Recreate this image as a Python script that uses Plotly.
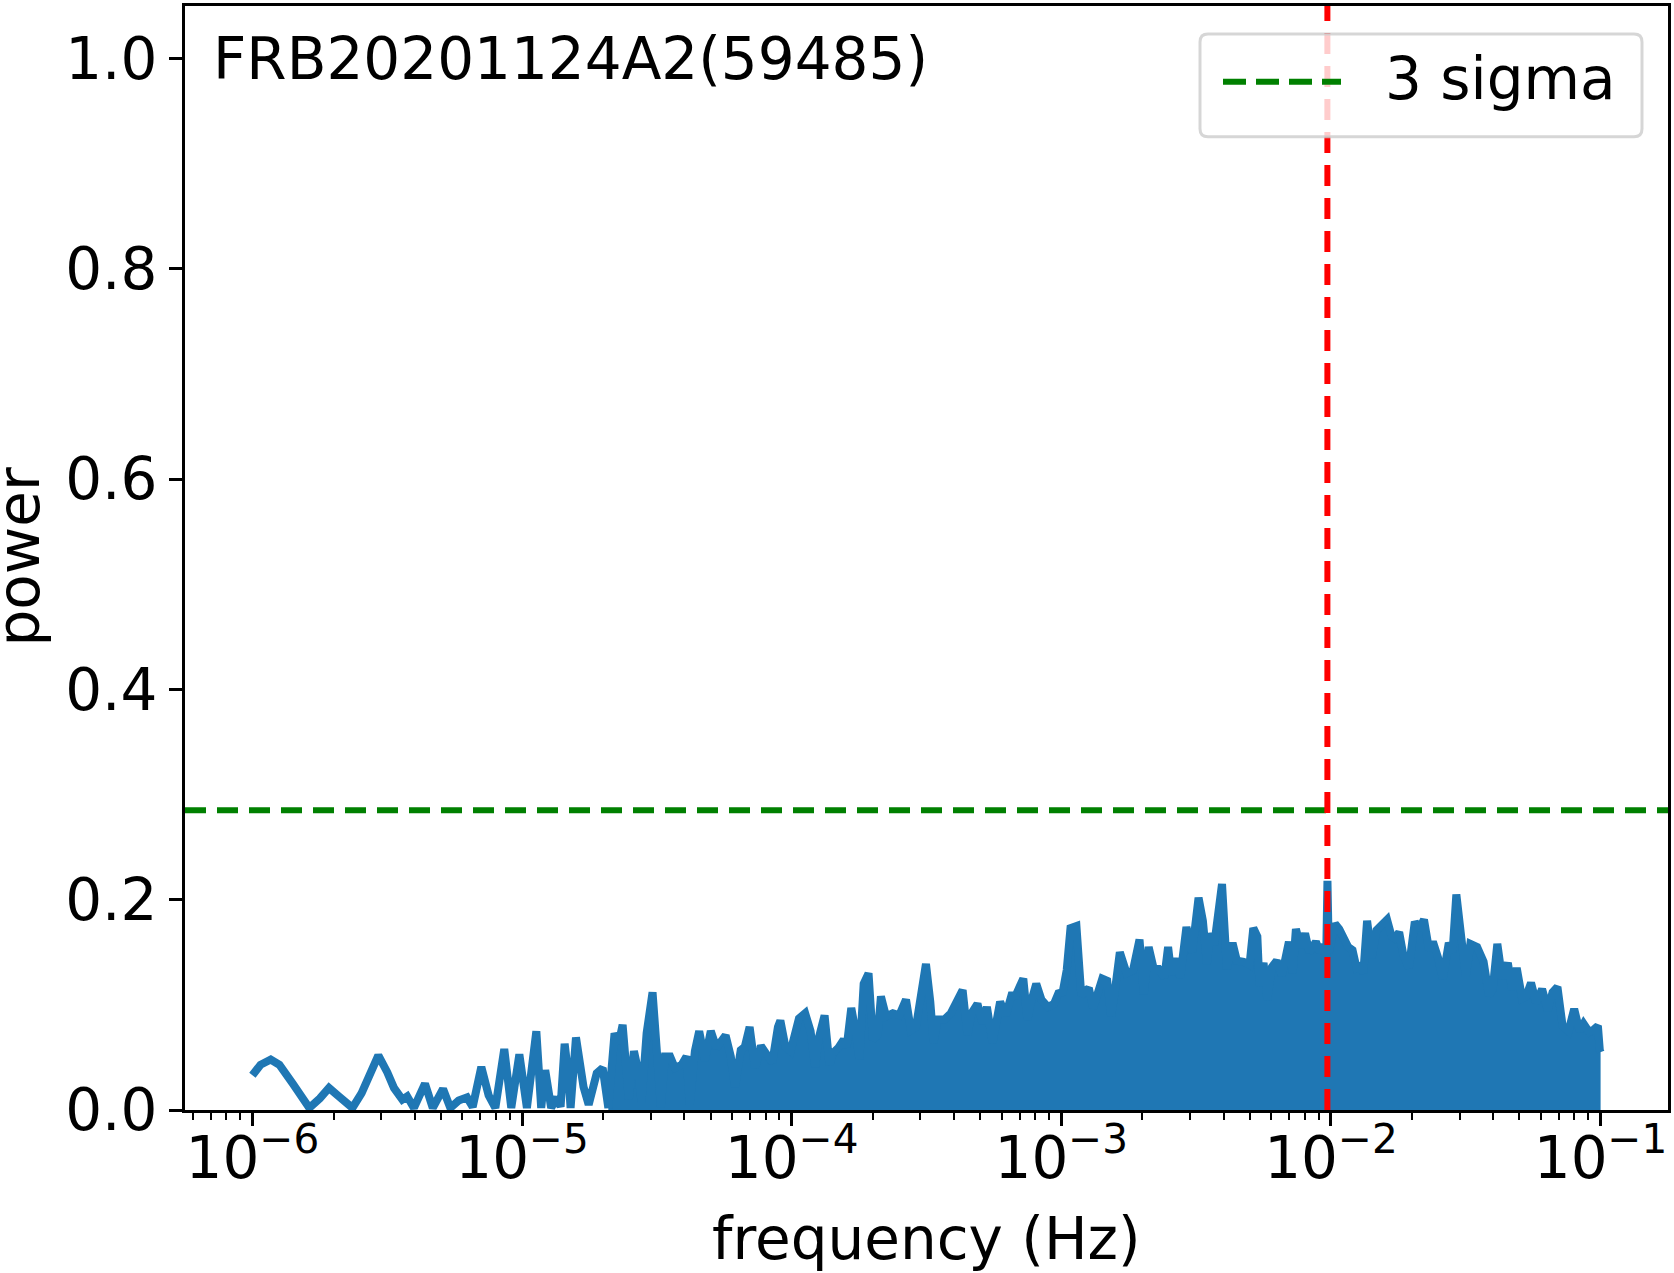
import plotly.graph_objects as go

# ---- data ----
# log10 of frequency (Hz) and Lomb-Scargle power
log10_freq = [
    -6.000, -5.970, -5.932, -5.900, -5.850, -5.789, -5.750, -5.716, -5.680, -5.629,
    -5.595, -5.533, -5.500, -5.475, -5.444, -5.426, -5.401, -5.360, -5.331, -5.293,
    -5.266, -5.235, -5.204, -5.183, -5.151, -5.124, -5.099, -5.066, -5.040, -5.010,
    -4.982, -4.947, -4.929, -4.914, -4.892, -4.871, -4.857, -4.842, -4.828, -4.820,
    -4.800, -4.772, -4.753, -4.723, -4.701, -4.680, -4.657, -4.642, -4.627, -4.604,
    -4.585, -4.569, -4.557, -4.538, -4.516, -4.501, -4.485, -4.470, -4.451, -4.433,
    -4.408, -4.390, -4.378, -4.359, -4.343, -4.322, -4.300, -4.279, -4.245, -4.226,
    -4.210, -4.189, -4.174, -4.156, -4.136, -4.114, -4.089, -4.072, -4.051, -4.042,
    -4.023, -4.004, -3.973, -3.950, -3.930, -3.913, -3.900, -3.878, -3.860, -3.847,
    -3.827, -3.807, -3.796, -3.779, -3.761, -3.749, -3.733, -3.715, -3.699, -3.681,
    -3.669, -3.650, -3.625, -3.601, -3.576, -3.558, -3.539, -3.521, -3.502, -3.486,
    -3.474, -3.459, -3.434, -3.410, -3.387, -3.366, -3.348, -3.333, -3.311, -3.292,
    -3.276, -3.255, -3.227, -3.206, -3.185, -3.169, -3.141, -3.126, -3.114, -3.093,
    -3.074, -3.050, -3.027, -3.011, -2.995, -2.980, -2.966, -2.944, -2.926, -2.898,
    -2.882, -2.867, -2.848, -2.830, -2.815, -2.802, -2.783, -2.758, -2.734, -2.710,
    -2.694, -2.676, -2.657, -2.639, -2.618, -2.604, -2.592, -2.573, -2.559, -2.536,
    -2.515, -2.491, -2.475, -2.460, -2.448, -2.433, -2.421, -2.404, -2.386, -2.365,
    -2.349, -2.324, -2.302, -2.288, -2.273, -2.265, -2.250, -2.236, -2.219, -2.201,
    -2.182, -2.156, -2.142, -2.130, -2.112, -2.096, -2.080, -2.056, -2.041, -2.026,
    -2.018, -2.013, -2.008, -1.998, -1.985, -1.969, -1.954, -1.936, -1.920, -1.905,
    -1.890, -1.880, -1.866, -1.849, -1.831, -1.812, -1.792, -1.775, -1.763, -1.747,
    -1.732, -1.711, -1.689, -1.673, -1.655, -1.636, -1.622, -1.603, -1.585, -1.563,
    -1.549, -1.535, -1.516, -1.500, -1.483, -1.458, -1.434, -1.414, -1.400, -1.383,
    -1.365, -1.344, -1.328, -1.311, -1.291, -1.276, -1.258, -1.239, -1.217, -1.196,
    -1.178, -1.160, -1.141, -1.119, -1.098, -1.078, -1.063, -1.042, -1.023, -1.010,
    -1.003, -1.000,
]
power = [
    0.033, 0.043, 0.048, 0.043, 0.025, 0.002, 0.011, 0.021, 0.013, 0.002,
    0.016, 0.052, 0.036, 0.021, 0.010, 0.013, 0.002, 0.025, 0.002, 0.020,
    0.002, 0.009, 0.012, 0.003, 0.041, 0.014, 0.002, 0.058, 0.002, 0.053,
    0.002, 0.075, 0.002, 0.038, 0.002, 0.012, 0.003, 0.063, 0.032, 0.002,
    0.069, 0.022, 0.005, 0.035, 0.040, 0.002, 0.073, 0.063, 0.081, 0.010,
    0.056, 0.037, 0.007, 0.073, 0.112, 0.060, 0.003, 0.051, 0.051, 0.040,
    0.043, 0.051, 0.005, 0.056, 0.075, 0.047, 0.075, 0.059, 0.071, 0.051,
    0.022, 0.057, 0.060, 0.079, 0.040, 0.061, 0.051, 0.045, 0.079, 0.085,
    0.060, 0.056, 0.087, 0.092, 0.075, 0.041, 0.068, 0.090, 0.043, 0.054,
    0.059, 0.067, 0.060, 0.097, 0.072, 0.048, 0.120, 0.130, 0.067, 0.071,
    0.108, 0.089, 0.092, 0.090, 0.105, 0.076, 0.079, 0.112, 0.139, 0.103,
    0.064, 0.086, 0.086, 0.092, 0.105, 0.114, 0.071, 0.092, 0.101, 0.082,
    0.098, 0.064, 0.103, 0.090, 0.109, 0.109, 0.125, 0.086, 0.101, 0.120,
    0.105, 0.098, 0.101, 0.111, 0.112, 0.133, 0.173, 0.175, 0.109, 0.116,
    0.097, 0.112, 0.125, 0.123, 0.089, 0.112, 0.150, 0.130, 0.133, 0.162,
    0.110, 0.155, 0.134, 0.134, 0.126, 0.155, 0.129, 0.144, 0.126, 0.174,
    0.150, 0.202, 0.180, 0.139, 0.168, 0.157, 0.182, 0.215, 0.134, 0.159,
    0.142, 0.141, 0.138, 0.173, 0.165, 0.118, 0.140, 0.105, 0.136, 0.142,
    0.128, 0.160, 0.130, 0.172, 0.155, 0.168, 0.150, 0.160, 0.150, 0.157,
    0.140, 0.218, 0.150, 0.165, 0.177, 0.172, 0.163, 0.155, 0.152, 0.135,
    0.137, 0.130, 0.180, 0.145, 0.171, 0.175, 0.181, 0.165, 0.163, 0.169,
    0.148, 0.135, 0.179, 0.172, 0.181, 0.152, 0.160, 0.145, 0.125, 0.159,
    0.150, 0.205, 0.157, 0.127, 0.158, 0.155, 0.141, 0.109, 0.115, 0.158,
    0.125, 0.140, 0.114, 0.135, 0.106, 0.108, 0.121, 0.102, 0.115, 0.095,
    0.112, 0.117, 0.080, 0.075, 0.096, 0.075, 0.082, 0.074, 0.077, 0.080,
    0.057, 0.055,
]
freq_hz = [10 ** v for v in log10_freq]

three_sigma = 0.285          # 3 sigma power level
marked_freq = 0.0097         # red dashed vertical marker (Hz)
source_label = "FRB20201124A2(59485)"
legend_label = "3 sigma"
x_title = "frequency (Hz)"
y_title = "power"
y_tick_values = [0.0, 0.2, 0.4, 0.6, 0.8, 1.0]
x_tick_exponents = [-6, -5, -4, -3, -2, -1]
fill_start = -4.69           # dense part of the periodogram starts here

BLUE = "#1f77b4"
FONT = "DejaVu Sans"
FS = 58
LW = 8

x_tick_values = [10.0 ** e for e in x_tick_exponents]
x_tick_text = [f"10<sup>\u2212{-e}</sup>" for e in x_tick_exponents]

dense_idx = [i for i, v in enumerate(log10_freq) if v >= fill_start]

fig = go.Figure()
# dense part: area under the curve
fig.add_trace(go.Scatter(
    x=[freq_hz[i] for i in dense_idx], y=[power[i] for i in dense_idx],
    mode="lines", fill="tozeroy", fillcolor=BLUE,
    line=dict(color=BLUE, width=0), hoverinfo="skip", showlegend=False))
# the periodogram line
fig.add_trace(go.Scatter(
    x=freq_hz, y=power, mode="lines",
    line=dict(color=BLUE, width=LW), showlegend=False))

# plot area in pixels (for positioning layout items)
L, R, T, B = 185, 1668, 3, 1110
W, H = R - L, B - T
def px(x):
    return (x - L) / W
def py(y):
    return (B - y) / H

shapes = [
    dict(type="line", xref="paper", x0=0, x1=1, yref="y", y0=three_sigma, y1=three_sigma,
         line=dict(color="green", width=6, dash="21px,11px"), layer="above"),
    dict(type="line", xref="x", x0=marked_freq, x1=marked_freq, yref="paper", y0=0, y1=1,
         line=dict(color="red", width=6, dash="21px,12px"), layer="above"),
]
# legend frame (rounded)
x0, x1, y0, y1 = px(1200), px(1642), py(134), py(31)
rx, ry = 8 / W, 8 / H
path = (f"M {x0+rx},{y1} L {x1-rx},{y1} Q {x1},{y1} {x1},{y1-ry} "
        f"L {x1},{y0+ry} Q {x1},{y0} {x1-rx},{y0} L {x0+rx},{y0} "
        f"Q {x0},{y0} {x0},{y0+ry} L {x0},{y1-ry} Q {x0},{y1} {x0+rx},{y1} Z")
shapes.append(dict(type="path", xref="paper", yref="paper", path=path,
                   fillcolor="rgba(255,255,255,0.8)",
                   line=dict(color="rgba(204,204,204,0.8)", width=3), layer="above"))
shapes.append(dict(type="line", xref="paper", yref="paper", x0=px(1223), x1=px(1341),
                   y0=py(79), y1=py(79),
                   line=dict(color="green", width=6, dash="23px,10px"), layer="above"))

annotations = [
    dict(text=source_label, xref="paper", yref="paper", x=px(211), y=py(56),
         xanchor="left", yanchor="middle", showarrow=False,
         font=dict(family=FONT, size=FS, color="black")),
    dict(text=legend_label, xref="paper", yref="paper", x=px(1383), y=py(76),
         xanchor="left", yanchor="middle", showarrow=False,
         font=dict(family=FONT, size=FS, color="black")),
    dict(text=x_title, xref="paper", yref="paper", x=0.5, y=py(1239),
         xanchor="center", yanchor="middle", showarrow=False,
         font=dict(family=FONT, size=FS, color="black")),
    dict(text=y_title, xref="paper", yref="paper", x=px(19), y=py(556),
         xanchor="center", yanchor="middle", showarrow=False, textangle=-90,
         font=dict(family=FONT, size=FS, color="black")),
]

fig.update_layout(
    width=1674, height=1273,
    margin=dict(l=L, r=1674 - R, t=T, b=1273 - B, pad=0),
    paper_bgcolor="white", plot_bgcolor="white",
    font=dict(family=FONT, size=FS, color="black"),
    shapes=shapes, annotations=annotations, showlegend=False,
)
fig.update_xaxes(
    type="log", range=[-6.25, -0.75],
    tickmode="array", tickvals=x_tick_values, ticktext=x_tick_text,
    ticklabeloverflow="allow", ticklabelstandoff=-18,
    showline=True, linecolor="black", linewidth=3, mirror=True,
    ticks="outside", ticklen=13, tickwidth=2.7, tickcolor="black",
    showgrid=False, zeroline=False,
    tickfont=dict(family=FONT, size=FS, color="black"),
    minor=dict(ticks="outside", ticklen=7, tickwidth=2, tickcolor="black", dtick="D1",
               showgrid=False),
)
fig.update_yaxes(
    range=[0, 1.05], tickvals=y_tick_values, tickformat=".1f",
    showline=True, linecolor="black", linewidth=3, mirror=True,
    ticks="outside", ticklen=13, tickwidth=2.7, tickcolor="black",
    showgrid=False, zeroline=False,
    tickfont=dict(family=FONT, size=FS, color="black"),
)

fig.write_html("out.html")
